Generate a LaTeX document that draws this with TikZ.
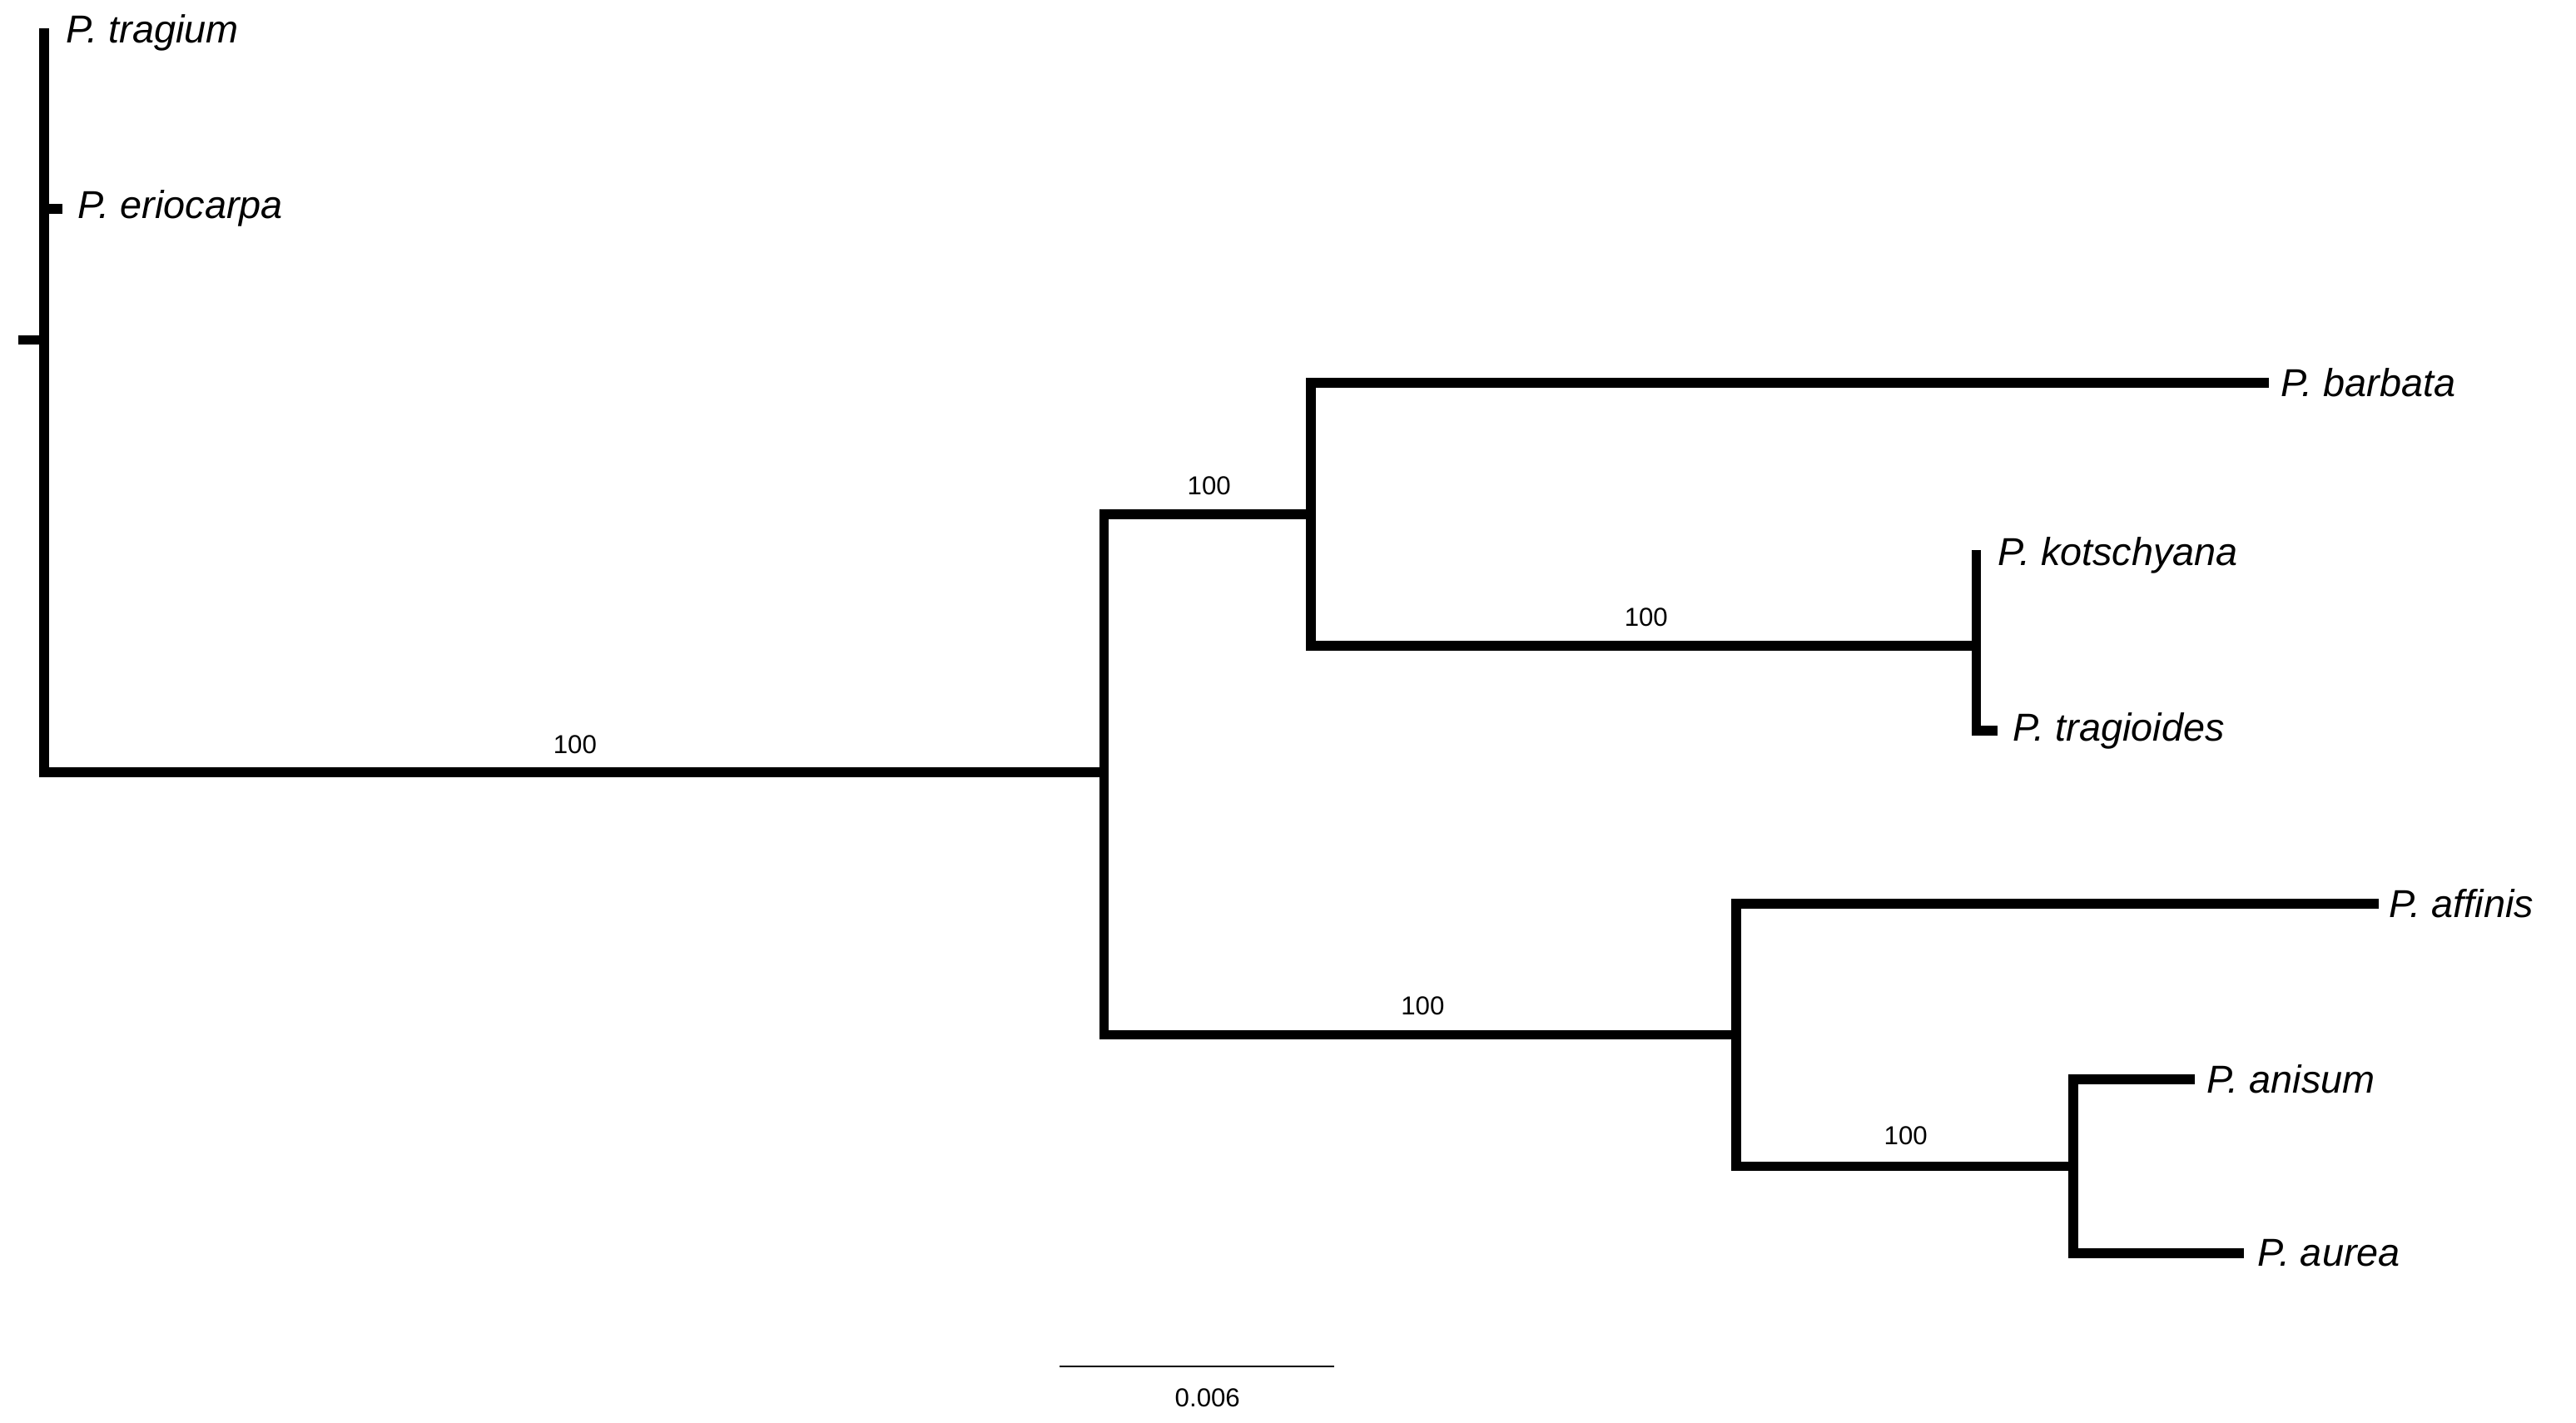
\documentclass[tikz,border=0pt]{standalone}
\usepackage{fontspec}
\setmainfont{Liberation Sans}
\begin{document}
\begin{tikzpicture}[x=0.02cm,y=-0.02cm,
  br/.style={line width=3.4pt,line cap=rect},
  tax/.style={anchor=west,font=\fontsize{13.5}{15}\selectfont\itshape,inner sep=0pt},
  sup/.style={anchor=south,font=\fontsize{9}{10}\selectfont,inner sep=2pt}]
\useasboundingbox (0,0) rectangle (1568,866);
% nodes
\coordinate (root) at (27,207);
\coordinate (rt) at (14,207);
\coordinate (t1) at (27,20);
\coordinate (e0) at (27,127);
\coordinate (e1) at (35,127);
\coordinate (r0) at (27,470);
\coordinate (n1) at (672,470);
\coordinate (n1a) at (672,313);
\coordinate (n1b) at (672,630);
\coordinate (n2) at (798,313);
\coordinate (n2a) at (798,233);
\coordinate (n2b) at (798,393);
\coordinate (bar) at (1378,233);
\coordinate (n3) at (1203,393);
\coordinate (n3a) at (1203,338);
\coordinate (n3b) at (1203,445);
\coordinate (trg) at (1213,445);
\coordinate (n4) at (1057,630);
\coordinate (n4a) at (1057,550);
\coordinate (n4b) at (1057,710);
\coordinate (aff) at (1445,550);
\coordinate (n5) at (1262,710);
\coordinate (n5a) at (1262,657);
\coordinate (n5b) at (1262,763);
\coordinate (ani) at (1333,657);
\coordinate (aur) at (1363,763);
% branches
\draw[br] (rt) -- (root);
\draw[br] (t1) -- (r0) -- (n1);
\draw[br] (e0) -- (e1);
\draw[br] (n1a) -- (n1b);
\draw[br] (n1a) -- (n2);
\draw[br] (n2a) -- (n2b);
\draw[br] (n2a) -- (bar);
\draw[br] (n2b) -- (n3);
\draw[br] (n3a) -- (n3b) -- (trg);
\draw[br] (n1b) -- (n4);
\draw[br] (n4a) -- (n4b);
\draw[br] (n4a) -- (aff);
\draw[br] (n4b) -- (n5);
\draw[br] (n5a) -- (n5b);
\draw[br] (n5a) -- (ani);
\draw[br] (n5b) -- (aur);
% labels
\node[tax] (lt) at (40,20) {P. tragium};
\node[tax] (le) at (47,127) {P. eriocarpa};
\node[tax] (lb) at (1388,233) {P. barbata};
\node[tax] (lk) at (1216,338) {P. kotschyana};
\node[tax] (lg) at (1225,445) {P. tragioides};
\node[tax] (la) at (1454,550) {P. affinis};
\node[tax] (ln) at (1343,657) {P. anisum};
\node[tax] (lr) at (1374,763) {P. aurea};
\node[sup] (s1) at (350,463) {100};
\node[sup] (s2) at (736,305) {100};
\node[sup] (s3) at (1002,385) {100};
\node[sup] (s4) at (866,622) {100};
\node[sup] (s5) at (1160,701) {100};
% scale bar
\coordinate (sb1) at (645,832);
\coordinate (sb2) at (812,832);
\draw[line width=0.6pt] (sb1) -- (sb2);
\node[font=\fontsize{9}{10}\selectfont] (sbl) at (735,851) {0.006};
\end{tikzpicture}
\end{document}
